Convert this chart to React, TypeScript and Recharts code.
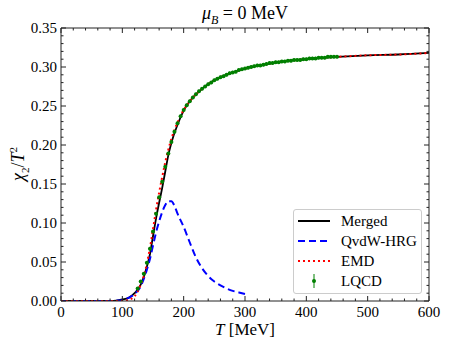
import React from 'react';
import { ComposedChart, Line, Scatter, ErrorBar, XAxis, YAxis } from 'recharts';

// temperatures (MeV) and chi2/T^2 values
const mergedT = [0, 20, 40, 60, 80, 90, 100, 110, 120, 130, 140, 145, 150, 155, 160, 165, 170, 175, 180, 190, 200, 210, 220, 230, 240, 260, 280, 300, 330, 360, 400, 450, 500, 550, 600];
const mergedV = [0, 0, 0, 0, 0, 0.0005, 0.002, 0.004, 0.010, 0.021, 0.044, 0.060, 0.083, 0.106, 0.126, 0.145, 0.166, 0.187, 0.203, 0.226, 0.244, 0.256, 0.265, 0.272, 0.278, 0.287, 0.293, 0.298, 0.303, 0.307, 0.310, 0.313, 0.315, 0.316, 0.318];

const hrgT = [0, 20, 40, 60, 80, 90, 100, 110, 120, 130, 140, 145, 150, 155, 160, 165, 170, 175, 180, 185, 190, 200, 210, 220, 230, 240, 250, 260, 270, 280, 290, 300];
const hrgV = [0, 0, 0, 0, 0, 0.0004, 0.001, 0.004, 0.009, 0.019, 0.040, 0.054, 0.071, 0.088, 0.102, 0.114, 0.123, 0.128, 0.128, 0.122, 0.112, 0.095, 0.075, 0.056, 0.042, 0.032, 0.025, 0.020, 0.016, 0.013, 0.011, 0.009];

const emdT = [0, 50, 100, 110, 115, 120, 125, 130, 135, 140, 145, 150, 155, 160, 165, 170, 175, 180, 190, 200, 210, 220, 230, 240, 260, 280, 300, 330, 360, 400, 450, 500, 550, 600];
const emdV = [0, 0, 0, 0.001, 0.003, 0.006, 0.012, 0.021, 0.032, 0.048, 0.068, 0.092, 0.117, 0.139, 0.159, 0.178, 0.194, 0.208, 0.229, 0.245, 0.256, 0.265, 0.272, 0.278, 0.287, 0.293, 0.298, 0.303, 0.307, 0.310, 0.313, 0.315, 0.316, 0.318];

const lqcdT = [125, 130, 135, 140, 145, 150, 155, 160, 165, 170, 175, 180, 185, 190, 195, 200, 205, 210, 215, 220, 225, 230, 235, 240, 245, 250, 255, 260, 265, 270, 275, 280, 285, 290, 295, 300, 305, 310, 315, 320, 325, 330, 335, 340, 345, 350, 355, 360, 365, 370, 375, 380, 385, 390, 395, 400, 405, 410, 415, 420, 425, 430, 435, 440, 445, 450];
const lqcdV = [0.016, 0.025, 0.035, 0.049, 0.067, 0.089, 0.112, 0.133, 0.153, 0.172, 0.189, 0.204, 0.217, 0.228, 0.237, 0.245, 0.251, 0.256, 0.261, 0.265, 0.269, 0.272, 0.275, 0.278, 0.280, 0.283, 0.285, 0.287, 0.288, 0.290, 0.292, 0.293, 0.294, 0.296, 0.297, 0.298, 0.299, 0.300, 0.301, 0.302, 0.302, 0.303, 0.304, 0.305, 0.305, 0.306, 0.306, 0.307, 0.307, 0.308, 0.308, 0.309, 0.309, 0.309, 0.310, 0.310, 0.311, 0.311, 0.311, 0.312, 0.312, 0.312, 0.313, 0.313, 0.313, 0.313];
const lqcdErr = 0.002;

const xTicks = Array.from({ length: 31 }, (_, i) => i * 20);
const yTicks = Array.from({ length: 36 }, (_, i) => +(i * 0.01).toFixed(2));

const toRows = (ts: number[], vs: number[]) => ts.map((T, i) => ({ T, v: vs[i] }));
const mergedData = toRows(mergedT, mergedV);
const hrgData = toRows(hrgT, hrgV);
const emdData = toRows(emdT, emdV);
const lqcdData = lqcdT.map((T, i) => ({ T, v: lqcdV[i], err: lqcdErr }));

const font = '"Liberation Serif", "Times New Roman", serif';
const frame = '#222';
const green = '#008000';

const isMajorX = (v: number) => v % 100 === 0;
const isMajorY = (v: number) => Math.round(v * 100) % 5 === 0;

const BottomTick = ({ x, y, payload }: any) => {
  const major = isMajorX(payload.value);
  return (
    <g>
      <line x1={x} x2={x} y1={y} y2={y - (major ? 5 : 2.5)} stroke={frame} />
      {major && (
        <text x={x} y={y + 16} textAnchor="middle" fontSize={15} fontFamily={font} fill="#000">
          {payload.value}
        </text>
      )}
    </g>
  );
};

const TopTick = ({ x, y, payload }: any) => (
  <line x1={x} x2={x} y1={y} y2={y + (isMajorX(payload.value) ? 5 : 2.5)} stroke={frame} />
);

const LeftTick = ({ x, y, payload }: any) => {
  const major = isMajorY(payload.value);
  return (
    <g>
      <line x1={x} x2={x + (major ? 5 : 2.5)} y1={y} y2={y} stroke={frame} />
      {major && (
        <text x={x - 4} y={y + 5} textAnchor="end" fontSize={15} fontFamily={font} fill="#000">
          {payload.value.toFixed(2)}
        </text>
      )}
    </g>
  );
};

const RightTick = ({ x, y, payload }: any) => (
  <line x1={x} x2={x - (isMajorY(payload.value) ? 5 : 2.5)} y1={y} y2={y} stroke={frame} />
);

const legendRows = [
  { label: 'Merged', kind: 'solid' },
  { label: 'QvdW-HRG', kind: 'dashed' },
  { label: 'EMD', kind: 'dotted' },
  { label: 'LQCD', kind: 'err' },
];

const LegendIcon = ({ kind }: { kind: string }) => (
  <svg width={32} height={16} style={{ display: 'block' }}>
    {kind === 'solid' && <line x1={0} x2={32} y1={8} y2={8} stroke="#000" strokeWidth={2} />}
    {kind === 'dashed' && <line x1={0} x2={32} y1={8} y2={8} stroke="#0000ff" strokeWidth={2} strokeDasharray="7 4" />}
    {kind === 'dotted' && <line x1={0} x2={32} y1={8} y2={8} stroke="#ff0000" strokeWidth={2} strokeDasharray="2 3" />}
    {kind === 'err' && (
      <g>
        <line x1={16} x2={16} y1={1} y2={15} stroke={green} strokeWidth={1} />
        <circle cx={16} cy={8} r={2} fill={green} />
      </g>
    )}
  </svg>
);

export default function App() {
  return (
    <div style={{ position: 'absolute', left: 0, top: 0, width: 449, height: 348, background: '#fff', fontFamily: font }}>
      <ComposedChart width={449} height={348} margin={{ top: 0, right: 0, bottom: 0, left: 0 }}>
        <XAxis xAxisId="b" type="number" dataKey="T" domain={[0, 600]} ticks={xTicks} interval={0} allowDataOverflow
          orientation="bottom" height={47} tickSize={0} tickMargin={0} tickLine={false} axisLine={{ stroke: frame }} tick={<BottomTick />} />
        <XAxis xAxisId="t" type="number" dataKey="T" domain={[0, 600]} ticks={xTicks} interval={0} allowDataOverflow
          orientation="top" height={28} tickSize={0} tickMargin={0} tickLine={false} axisLine={{ stroke: frame }} tick={<TopTick />} />
        <YAxis yAxisId="l" type="number" dataKey="v" domain={[0, 0.35]} ticks={yTicks} interval={0} allowDataOverflow
          orientation="left" width={61} tickSize={0} tickMargin={0} tickLine={false} axisLine={{ stroke: frame }} tick={<LeftTick />} />
        <YAxis yAxisId="r" type="number" dataKey="v" domain={[0, 0.35]} ticks={yTicks} interval={0} allowDataOverflow
          orientation="right" width={20} tickSize={0} tickMargin={0} tickLine={false} axisLine={{ stroke: frame }} tick={<RightTick />} />

        <Line xAxisId="b" yAxisId="l" data={mergedData} dataKey="v" type="monotone" stroke="#000" strokeWidth={1.8} dot={false} isAnimationActive={false} />
        <Line xAxisId="b" yAxisId="l" data={hrgData} dataKey="v" type="monotone" stroke="#0000ff" strokeWidth={2} strokeDasharray="7 4" dot={false} isAnimationActive={false} />
        <Line xAxisId="b" yAxisId="l" data={emdData} dataKey="v" type="monotone" stroke="#ff0000" strokeWidth={2} strokeDasharray="2 3" dot={false} isAnimationActive={false} />
        <Scatter xAxisId="b" yAxisId="l" data={lqcdData} dataKey="v" fill={green} isAnimationActive={false}
          shape={(p: any) => <circle cx={p.cx} cy={p.cy} r={2} fill={green} />}>
          <ErrorBar dataKey="err" direction="y" width={0} stroke={green} strokeWidth={1} />
        </Scatter>
      </ComposedChart>

      {/* title */}
      <div style={{ position: 'absolute', left: 61, width: 368, top: 3, textAlign: 'center', fontSize: 18, lineHeight: '20px' }}>
        <i>μ</i><sub style={{ fontSize: 12 }}><i>B</i></sub> = 0 MeV
      </div>

      {/* axis labels */}
      <div style={{ position: 'absolute', left: 61, width: 368, top: 320, textAlign: 'center', fontSize: 17, lineHeight: '20px' }}>
        <i>T</i> [MeV]
      </div>
      <div style={{ position: 'absolute', left: 19, top: 164, transform: 'translate(-50%, -50%) rotate(-90deg)', fontSize: 18, lineHeight: '20px', whiteSpace: 'nowrap' }}>
        <i>χ</i><sub style={{ fontSize: 11 }}>2</sub>/<i>T</i><sup style={{ fontSize: 11 }}>2</sup>
      </div>

      {/* legend */}
      <div style={{ position: 'absolute', left: 293, top: 209, width: 127, height: 83, border: '1px solid #ccc', borderRadius: 3, background: 'rgba(255,255,255,0.8)' }}>
        {legendRows.map((r, i) => (
          <div key={r.label} style={{ position: 'absolute', left: 4, top: 3 + i * 20, height: 16, display: 'flex', alignItems: 'center' }}>
            <LegendIcon kind={r.kind} />
            <span style={{ marginLeft: 11, fontSize: 15, lineHeight: '16px' }}>{r.label}</span>
          </div>
        ))}
      </div>
    </div>
  );
}
